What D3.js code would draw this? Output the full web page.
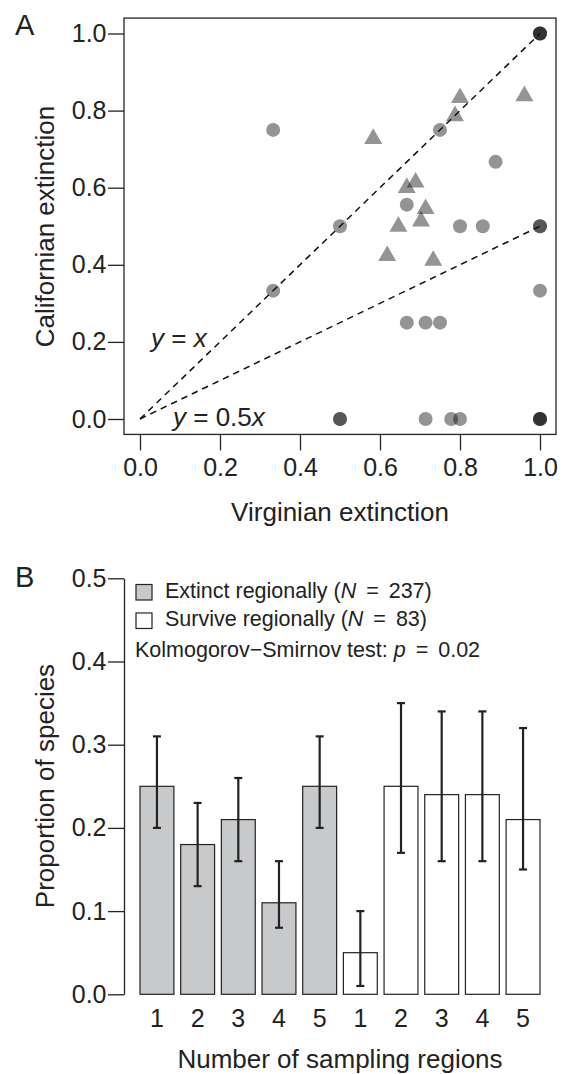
<!DOCTYPE html>
<html><head><meta charset="utf-8">
<script src="https://cdn.jsdelivr.net/npm/d3@7"></script>
<style>
body{margin:0;background:#fff}
text{font-family:"Liberation Sans",Arial,Helvetica,sans-serif;fill:#222}
</style>
</head><body>
<svg id="chart" width="565" height="1074" xmlns="http://www.w3.org/2000/svg"></svg>
<script>
// ---------- Panel A data: [Virginian extinction, Californian extinction] ----------
const circleVirginian   = [0.333, 0.75, 0.889, 0.667, 0.5, 0.8, 0.857, 0.333, 1.0, 0.667, 0.714, 0.75, 0.714, 0.778, 0.8, 1.0, 1.0, 1.0, 1.0, 1.0, 0.5, 0.5, 1.0, 1.0, 1.0];
const circleCalifornian = [0.75, 0.75, 0.667, 0.556, 0.5, 0.5, 0.5, 0.333, 0.333, 0.25, 0.25, 0.25, 0.0, 0.0, 0.0, 1.0, 1.0, 1.0, 0.5, 0.5, 0.0, 0.0, 0.0, 0.0, 0.0];
const triVirginian   = [0.583, 0.8, 0.7875, 0.961, 0.667, 0.689, 0.714, 0.7025, 0.646, 0.618, 0.733];
const triCalifornian = [0.727, 0.833, 0.786, 0.838, 0.6, 0.614, 0.545, 0.513, 0.499, 0.423, 0.411];
const ticksA = [0, 0.2, 0.4, 0.6, 0.8, 1.0];
const refSlopes = [1, 0.5];

// ---------- Panel B data ----------
const barLabels = ["1","2","3","4","5","1","2","3","4","5"];
const barGroup  = ["extinct","extinct","extinct","extinct","extinct","survive","survive","survive","survive","survive"];
const barValues = [0.25, 0.18, 0.21, 0.11, 0.25, 0.05, 0.25, 0.24, 0.24, 0.21];
const errLow    = [0.20, 0.13, 0.16, 0.08, 0.20, 0.01, 0.17, 0.16, 0.16, 0.15];
const errHigh   = [0.31, 0.23, 0.26, 0.16, 0.31, 0.10, 0.35, 0.34, 0.34, 0.32];
const ticksB = [0, 0.1, 0.2, 0.3, 0.4, 0.5];
const legendLabels = [["Extinct regionally (", "N", "237)"], ["Survive regionally (", "N", "83)"]];
const legendGroups = ["extinct", "survive"];

const ink = "#222";
const svg = d3.select("#chart");
svg.append("rect").attr("width",565).attr("height",1074).attr("fill","#fff");

// ================= Panel A =================
const xA = d3.scaleLinear().domain([0,1]).range([140,540]);
const yA = d3.scaleLinear().domain([0,1]).range([419,33.5]);
const gA = svg.append("g");

const circles = circleVirginian.map((v,i)=>({x:v,y:circleCalifornian[i]}));
const tris = triVirginian.map((v,i)=>({x:v,y:triCalifornian[i]}));

gA.selectAll("circle.pt").data(circles).join("circle")
  .attr("cx",d=>xA(d.x)).attr("cy",d=>yA(d.y)).attr("r",7)
  .attr("fill","#000").attr("fill-opacity",0.42);
const triSym = d3.symbol().type(d3.symbolTriangle).size(140);
gA.selectAll("path.tri").data(tris).join("path")
  .attr("transform",d=>`translate(${xA(d.x)},${yA(d.y)})`)
  .attr("d",triSym).attr("fill","#000").attr("fill-opacity",0.42);

// reference lines
gA.selectAll("line.ref").data(refSlopes).join("line")
  .attr("x1",xA(0)).attr("y1",yA(0)).attr("x2",xA(1)).attr("y2",d=>yA(d))
  .attr("stroke","#111").attr("stroke-width",1.5).attr("stroke-dasharray","6.5,5");

// box
gA.append("rect").attr("x",xA(-0.04)).attr("y",yA(1.04))
  .attr("width",xA(1.04)-xA(-0.04)).attr("height",yA(-0.04)-yA(1.04))
  .attr("fill","none").attr("stroke",ink).attr("stroke-width",1.3);

const fmt = d3.format(".1f");
const axLA = gA.append("g").attr("transform",`translate(${xA(-0.04)},0)`)
  .call(d3.axisLeft(yA).tickValues(ticksA).tickFormat(fmt).tickSize(16).tickPadding(1.5));
const axBA = gA.append("g").attr("transform",`translate(0,${yA(-0.04)})`)
  .call(d3.axisBottom(xA).tickValues(ticksA).tickFormat(fmt).tickSize(16).tickPadding(7.5));
[axLA,axBA].forEach(a=>{
  a.select(".domain").remove();
  a.selectAll("line").attr("stroke",ink).attr("stroke-width",1.3);
  a.selectAll("text").attr("font-size",25).attr("font-family",null).attr("fill",ink);
});

// line annotations
const t1 = gA.append("text").attr("x",151).attr("y",346.5).attr("font-size",26);
t1.append("tspan").attr("font-style","italic").text("y");
t1.append("tspan").text(" = ");
t1.append("tspan").attr("font-style","italic").text("x");
const t2 = gA.append("text").attr("x",173).attr("y",426).attr("font-size",26);
t2.append("tspan").attr("font-style","italic").text("y");
t2.append("tspan").text(" = 0.5");
t2.append("tspan").attr("font-style","italic").text("x");

gA.append("text").attr("transform","translate(54,226.5) rotate(-90)")
  .attr("text-anchor","middle").attr("font-size",26).text("Californian extinction");
gA.append("text").attr("x",340).attr("y",521).attr("text-anchor","middle")
  .attr("font-size",26).text("Virginian extinction");
gA.append("text").attr("x",15).attr("y",35).attr("font-size",29).text("A");

// ================= Panel B =================
const idx = d3.range(barValues.length);
const xB = d3.scaleBand().domain(idx).range([140,540]).paddingInner(1/6).paddingOuter(0);
const yB = d3.scaleLinear().domain([0,0.5]).range([994.3,578.3]);
const gB = svg.append("g");
const fillFor = g => g==="extinct" ? "#c8c9cb" : "#fff";

gB.selectAll("rect.bar").data(idx).join("rect")
  .attr("x",i=>xB(i)).attr("y",i=>yB(barValues[i]))
  .attr("width",xB.bandwidth()).attr("height",i=>yB(0)-yB(barValues[i]))
  .attr("fill",i=>fillFor(barGroup[i])).attr("stroke",ink).attr("stroke-width",1.2);

const cx = i=>xB(i)+xB.bandwidth()/2;
const eb = gB.selectAll("g.err").data(idx).join("g").attr("stroke",ink).attr("stroke-width",2.2);
eb.append("line").attr("x1",cx).attr("x2",cx).attr("y1",i=>yB(errLow[i])).attr("y2",i=>yB(errHigh[i]));
eb.append("line").attr("x1",i=>cx(i)-4).attr("x2",i=>cx(i)+4).attr("y1",i=>yB(errLow[i])).attr("y2",i=>yB(errLow[i]));
eb.append("line").attr("x1",i=>cx(i)-4).attr("x2",i=>cx(i)+4).attr("y1",i=>yB(errHigh[i])).attr("y2",i=>yB(errHigh[i]));

const axLB = gB.append("g").attr("transform","translate(124,0)")
  .call(d3.axisLeft(yB).tickValues(ticksB).tickFormat(fmt).tickSize(16).tickSizeOuter(0).tickPadding(1.5));
axLB.select(".domain").attr("stroke",ink).attr("stroke-width",1.3);
axLB.selectAll("line").attr("stroke",ink).attr("stroke-width",1.3);
axLB.selectAll("text").attr("font-size",25).attr("font-family",null).attr("fill",ink);

const axBB = gB.append("g").attr("transform",`translate(0,${yB(0)})`)
  .call(d3.axisBottom(xB).tickFormat(i=>barLabels[i]).tickSize(0).tickPadding(14.6));
axBB.select(".domain").remove();
axBB.selectAll("text").attr("font-size",25).attr("font-family",null).attr("fill",ink);

// legend
const legY = [597.5, 626];
legendGroups.forEach((g,k)=>{
  gB.append("rect").attr("x",136).attr("y",legY[k]-13).attr("width",16).attr("height",15.5)
    .attr("fill",fillFor(g)).attr("stroke",ink).attr("stroke-width",1.2);
  const t = gB.append("text").attr("x",165).attr("y",legY[k]).attr("font-size",21.5);
  t.append("tspan").text(legendLabels[k][0]);
  t.append("tspan").attr("font-style","italic").text(legendLabels[k][1]);
  t.append("tspan").attr("dx",4).text(" = ");
  t.append("tspan").attr("dx",4).text(legendLabels[k][2]);
});
const ks = gB.append("text").attr("x",135).attr("y",656.5).attr("font-size",21.5);
ks.append("tspan").text("Kolmogorov\u2212Smirnov test: ");
ks.append("tspan").attr("font-style","italic").text("p");
ks.append("tspan").attr("dx",4).text(" = ");
ks.append("tspan").attr("dx",4).text("0.02");

gB.append("text").attr("transform","translate(54,786) rotate(-90)")
  .attr("text-anchor","middle").attr("font-size",26).text("Proportion of species");
gB.append("text").attr("x",340).attr("y",1068.3).attr("text-anchor","middle")
  .attr("font-size",26).text("Number of sampling regions");
gB.append("text").attr("x",15).attr("y",587).attr("font-size",29).text("B");
</script>
</body></html>
